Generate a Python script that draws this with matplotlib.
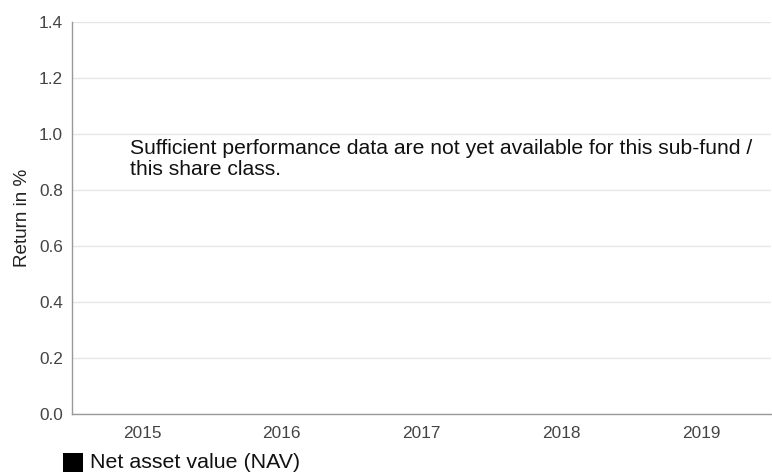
import matplotlib
matplotlib.use("Agg")
import matplotlib.pyplot as plt
from matplotlib.patches import Rectangle

categories = ["2015", "2016", "2017", "2018", "2019"]
nav_values = [None, None, None, None, None]
y_ticks = [0.0, 0.2, 0.4, 0.6, 0.8, 1.0, 1.2, 1.4]
message = "Sufficient performance data are not yet available for this sub-fund /\nthis share class."
legend_label = "Net asset value (NAV)"

plt.rcParams['font.family'] = ['Liberation Sans', 'DejaVu Sans']

fig = plt.figure(figsize=(7.72, 4.74), dpi=100)
W, H = 772, 474
left, right, top, bottom = 72, 771, 22, 414
ax = fig.add_axes([left / W, 1 - bottom / H, (right - left) / W, (bottom - top) / H])

x = list(range(len(categories)))
vals = [v if v is not None else 0 for v in nav_values]
ax.bar(x, vals, color="black", width=0.6)

ax.set_xlim(-0.5, len(categories) - 0.5)
ax.set_ylim(0, 1.4)
ax.set_yticks(y_ticks)
ax.set_yticklabels([f"{t:.1f}" for t in y_ticks])
ax.set_xticks(x)
ax.set_xticklabels(categories)
ax.tick_params(axis='both', length=0, labelsize=12.4, colors="#444444")
ax.tick_params(axis='y', pad=6.5)
ax.tick_params(axis='x', pad=8.5)
ax.grid(axis='y', color="#e6e6e6", linewidth=1)
ax.set_axisbelow(True)
for s in ["top", "right"]:
    ax.spines[s].set_visible(False)
for s in ["left", "bottom"]:
    ax.spines[s].set_color("#999999")
    ax.spines[s].set_linewidth(1)

ax.set_ylabel("Return in %", fontsize=13.6, color="#222222")
ax.yaxis.set_label_coords(-(72 - 31) / (right - left), 0.5)

fig.text(130 / W, 1 - 139 / H, message, fontsize=15.25, color="#111111",
         va="top", ha="left", linespacing=1.1)

fig.patches.append(Rectangle((63 / W, 1 - 472 / H), 20 / W, 19 / H,
                             transform=fig.transFigure, facecolor="black",
                             edgecolor="none", figure=fig))
fig.text(90 / W, 1 - 463 / H, legend_label, fontsize=15.4, color="#111111",
         va="center", ha="left")

fig.savefig("out.png", dpi=100)
